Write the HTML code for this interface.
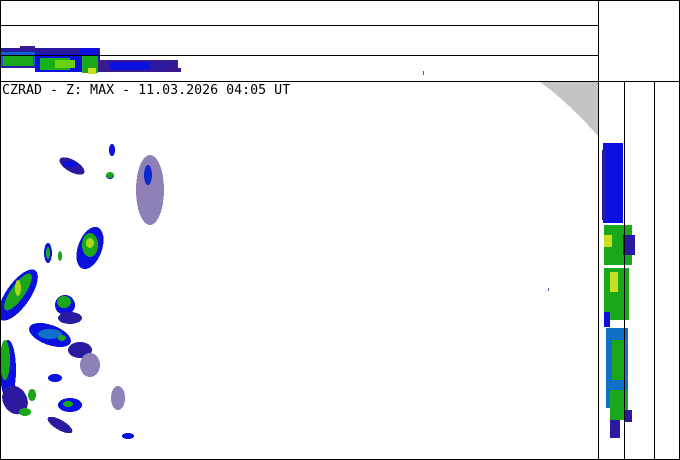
<!DOCTYPE html>
<html><head><meta charset="utf-8"><style>
html,body{margin:0;padding:0;background:#fff}
svg{display:block}
text{font-family:"DejaVu Sans Mono","Liberation Mono",monospace}
</style></head><body>
<svg width="680" height="460" viewBox="0 0 680 460" xmlns="http://www.w3.org/2000/svg" shape-rendering="crispEdges">
<rect x="0" y="0" width="680" height="460" fill="#fff"/>
<path d="M540,82 Q568,102 598,136 L598,82 Z" fill="#c4c4c4"/>
<g>
<rect x="0" y="48" width="100" height="20" fill="#2a1aa0"/>
<rect x="0" y="52" width="35" height="14" fill="#1060d0"/>
<rect x="3" y="56" width="30" height="10" fill="#1aa81a"/>
<rect x="20" y="46" width="15" height="4" fill="#3a1890"/>
<rect x="35" y="54" width="65" height="18" fill="#0a10e0"/>
<rect x="40" y="58" width="30" height="12" fill="#18b018"/>
<rect x="55" y="60" width="20" height="8" fill="#6ad010"/>
<rect x="80" y="48" width="18" height="20" fill="#0a10e0"/>
<rect x="82" y="55" width="16" height="18" fill="#1aa81a"/>
<rect x="88" y="68" width="8" height="6" fill="#c8e020"/>
<rect x="98" y="60" width="80" height="12" fill="#3a1890"/>
<rect x="110" y="62" width="40" height="8" fill="#0a10e0"/>
<rect x="150" y="62" width="20" height="8" fill="#2a1aa0"/>
<rect x="178" y="68" width="3" height="4" fill="#3a1890"/>
<rect x="423" y="71" width="1" height="4" fill="#7050a0"/>
</g>
<g>
<ellipse cx="72" cy="166" rx="14" ry="6" fill="#2a1aa0" transform="rotate(30 72 166)"/>
<ellipse cx="70" cy="164" rx="7" ry="3" fill="#0a10e0"/>
<ellipse cx="112" cy="150" rx="3" ry="6" fill="#0a10e0"/>
<ellipse cx="110" cy="176" rx="4" ry="3" fill="#0a10e0"/>
<ellipse cx="110" cy="175" rx="4" ry="3" fill="#1aa81a"/>
<ellipse cx="150" cy="190" rx="14" ry="35" fill="#9080b8"/>
<ellipse cx="148" cy="175" rx="4" ry="10" fill="#1028d0"/>
<ellipse cx="90" cy="248" rx="12" ry="22" fill="#0a10e0" transform="rotate(20 90 248)"/>
<ellipse cx="90" cy="245" rx="8" ry="12" fill="#1aa81a"/>
<ellipse cx="90" cy="243" rx="4" ry="5" fill="#a8d818"/>
<ellipse cx="48" cy="253" rx="4" ry="10" fill="#0a10e0"/>
<ellipse cx="48" cy="253" rx="2" ry="6" fill="#1aa81a"/>
<ellipse cx="60" cy="256" rx="2" ry="5" fill="#1aa81a"/>
<ellipse cx="18" cy="295" rx="12" ry="30" fill="#0a10e0" transform="rotate(35 18 295)"/>
<ellipse cx="18" cy="292" rx="7" ry="22" fill="#1aa81a" transform="rotate(35 18 292)"/>
<ellipse cx="18" cy="288" rx="3" ry="8" fill="#a8d818"/>
<ellipse cx="65" cy="305" rx="10" ry="10" fill="#0a10e0"/>
<ellipse cx="64" cy="302" rx="7" ry="6" fill="#1aa81a"/>
<ellipse cx="70" cy="318" rx="12" ry="6" fill="#2a1aa0"/>
<ellipse cx="50" cy="335" rx="22" ry="10" fill="#0a10e0" transform="rotate(20 50 335)"/>
<ellipse cx="50" cy="334" rx="12" ry="5" fill="#1070c8"/>
<ellipse cx="62" cy="338" rx="4" ry="3" fill="#1aa81a"/>
<ellipse cx="80" cy="350" rx="12" ry="8" fill="#2a1aa0"/>
<ellipse cx="90" cy="365" rx="10" ry="12" fill="#9080b8"/>
<ellipse cx="8" cy="370" rx="8" ry="30" fill="#0a10e0"/>
<ellipse cx="5" cy="360" rx="5" ry="20" fill="#1aa81a"/>
<ellipse cx="15" cy="400" rx="12" ry="15" fill="#2a1aa0" transform="rotate(-30 15 400)"/>
<ellipse cx="55" cy="378" rx="7" ry="4" fill="#0a10e0"/>
<ellipse cx="32" cy="395" rx="4" ry="6" fill="#1aa81a"/>
<ellipse cx="70" cy="405" rx="12" ry="7" fill="#0a10e0"/>
<ellipse cx="68" cy="404" rx="5" ry="3" fill="#1aa81a"/>
<ellipse cx="25" cy="412" rx="6" ry="4" fill="#1aa81a"/>
<ellipse cx="60" cy="425" rx="14" ry="5" fill="#2a1aa0" transform="rotate(30 60 425)"/>
<ellipse cx="118" cy="398" rx="7" ry="12" fill="#9080b8"/>
<ellipse cx="128" cy="436" rx="6" ry="3" fill="#0a10e0"/>
</g>
<g>
<rect x="603" y="143" width="20" height="80" fill="#0a10e0"/>
<rect x="602" y="150" width="4" height="70" fill="#2a1aa0"/>
<rect x="604" y="225" width="28" height="40" fill="#1aa81a"/>
<rect x="604" y="235" width="8" height="12" fill="#c8e020"/>
<rect x="623" y="235" width="12" height="20" fill="#2a1aa0"/>
<rect x="604" y="268" width="25" height="52" fill="#1aa81a"/>
<rect x="610" y="272" width="8" height="20" fill="#c8e020"/>
<rect x="604" y="312" width="6" height="15" fill="#0a10e0"/>
<rect x="606" y="328" width="22" height="80" fill="#1070c8"/>
<rect x="612" y="340" width="14" height="40" fill="#1aa81a"/>
<rect x="610" y="390" width="18" height="30" fill="#1aa81a"/>
<rect x="624" y="410" width="8" height="12" fill="#2a1aa0"/>
<rect x="610" y="420" width="10" height="18" fill="#2a1aa0"/>
<rect x="548" y="288" width="1" height="3" fill="#7050a0"/>
</g>
<g stroke="#000" stroke-width="1" fill="none">
<rect x="0.5" y="0.5" width="679" height="459"/>
<line x1="0" y1="25.5" x2="598" y2="25.5"/>
<line x1="0" y1="55.5" x2="598" y2="55.5"/>
<line x1="0" y1="81.5" x2="680" y2="81.5"/>
<line x1="598.5" y1="0" x2="598.5" y2="460"/>
<line x1="624.5" y1="81" x2="624.5" y2="460"/>
<line x1="654.5" y1="81" x2="654.5" y2="460"/>
</g>
<text x="2" y="94" font-size="13.3" fill="#000">CZRAD - Z: MAX - 11.03.2026 04:05 UT</text>
</svg>
</body></html>
